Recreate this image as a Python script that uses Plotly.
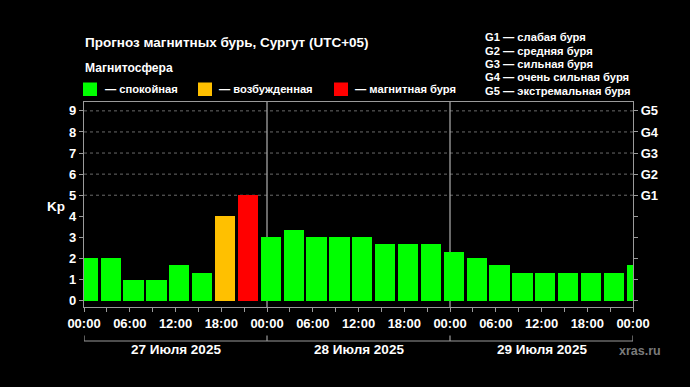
import plotly.graph_objects as go

# ---- data ----
kp_values = [2, 2, 1, 1, 1.67, 1.33, 4, 5,
             3, 3.33, 3, 3, 3, 2.67, 2.67, 2.67,
             2.33, 2, 1.67, 1.33, 1.33, 1.33, 1.33, 1.33,
             1.67]
# 3-hour intervals, local time (UTC+05): first interval starts at -1 h
interval_start_hours = [-1 + 3 * i for i in range(len(kp_values))]
hour_ticks = list(range(0, 73, 3))
hour_tick_labels = ["%02d:00" % (h % 24) if h % 6 == 0 else "" for h in hour_ticks]
day_labels = ["27 Июля 2025", "28 Июля 2025", "29 Июля 2025"]
day_starts = [0, 24, 48]
kp_ticks = list(range(0, 10))
g_levels = ["G1", "G2", "G3", "G4", "G5"]
g_descriptions = ["G1 — слабая буря", "G2 — средняя буря", "G3 — сильная буря",
                  "G4 — очень сильная буря", "G5 — экстремальная буря"]
legend_labels = ["— спокойная", "— возбужденная", "— магнитная буря"]
legend_colors = ["#00FF00", "#FFC000", "#FF0000"]
title_text = "Прогноз магнитных бурь, Сургут (UTC+05)"

# ---- geometry helpers (pixel -> paper) ----
W, H = 690, 387
L, R, T, B = 84, 633, 102, 307


def px(x):
    return (x - L) / (R - L)


def py(y):
    return (B - y) / (B - T)


FONT = "Liberation Sans"
GRID = "#9a9a9a"

colors = [legend_colors[0] if v < 4 else (legend_colors[1] if v < 5 else legend_colors[2])
          for v in kp_values]
centers = [s + 1.5 for s in interval_start_hours]

fig = go.Figure()
fig.add_trace(go.Bar(x=centers, y=kp_values, width=2.65, marker=dict(color=colors, line=dict(width=0)),
                     showlegend=False, hoverinfo="y"))
# invisible trace for the right-hand axis
fig.add_trace(go.Scatter(x=[0], y=[0], yaxis="y2", mode="markers", marker=dict(opacity=0),
                         showlegend=False, hoverinfo="skip"))

yr = [-0.3, 9.42]
shapes = []
# dotted storm-level grid lines
for lv in range(5, 10):
    shapes.append(dict(type="line", xref="paper", yref="y", x0=0, x1=1, y0=lv, y1=lv,
                       line=dict(color="#6a6a6a", width=1, dash="dot"), layer="below"))
# day separators
for d in day_starts[1:]:
    shapes.append(dict(type="line", xref="x", yref="paper", x0=d, x1=d, y0=0, y1=1,
                       line=dict(color="#b0b0b0", width=1.2), layer="below"))
# day bracket under the time labels
shapes.append(dict(type="line", xref="x", yref="paper", x0=0, x1=72, y0=py(341), y1=py(341),
                   line=dict(color=GRID, width=1.2)))
for d in day_starts + [72]:
    shapes.append(dict(type="line", xref="x", yref="paper", x0=d, x1=d, y0=py(341), y1=py(335.5),
                       line=dict(color=GRID, width=1.2)))
# legend swatches
sw_x = [83, 198, 334]
for xs, c in zip(sw_x, legend_colors):
    shapes.append(dict(type="rect", xref="paper", yref="paper", x0=px(xs), x1=px(xs + 14),
                       y0=py(96), y1=py(82.5), fillcolor=c, line=dict(width=0)))

bold = dict(family=FONT, color="white", weight="bold")
annotations = []
annotations.append(dict(text=title_text, xref="paper", yref="paper", x=px(83), y=py(43),
                        xanchor="left", yanchor="middle", showarrow=False, font=dict(size=13.5, **bold)))
annotations.append(dict(text="Магнитосфера", xref="paper", yref="paper", x=px(83), y=py(68),
                        xanchor="left", yanchor="middle", showarrow=False, font=dict(size=12.1, **bold)))
for xt, t in zip([104, 218, 354], legend_labels):
    annotations.append(dict(text=t, xref="paper", yref="paper", x=px(xt - 1), y=py(89.5),
                            xanchor="left", yanchor="middle", showarrow=False, font=dict(size=11.2, **bold)))
for i, t in enumerate(g_descriptions):
    annotations.append(dict(text=t, xref="paper", yref="paper", x=px(483), y=py(37 + 13.5 * i),
                            xanchor="left", yanchor="middle", showarrow=False, font=dict(size=11.2, **bold)))
annotations.append(dict(text="Kp", xref="paper", yref="y", x=px(55.5), y=4.45,
                        xanchor="center", yanchor="middle", showarrow=False, font=dict(size=13.5, **bold)))
for d, t in zip(day_starts, day_labels):
    annotations.append(dict(text=t, xref="x", yref="paper", x=d + 12, y=py(349.5),
                            xanchor="center", yanchor="middle", showarrow=False, font=dict(size=13.5, **bold)))
annotations.append(dict(text="xras.ru", xref="paper", yref="paper", x=px(640), y=py(350.5),
                        xanchor="center", yanchor="middle", showarrow=False,
                        font=dict(size=12.5, family=FONT, color="#7a7a7a", weight="bold")))

fig.update_layout(
    width=W, height=H,
    margin=dict(l=L, r=W - R, t=T, b=H - B, pad=0),
    paper_bgcolor="black", plot_bgcolor="black",
    bargap=0,
    shapes=shapes, annotations=annotations,
    xaxis=dict(range=[0, 72], tickmode="array", tickvals=hour_ticks, ticktext=hour_tick_labels,
               ticks="outside", ticklen=4, tickcolor=GRID, tickwidth=1,
               showline=True, linecolor=GRID, linewidth=1.2, mirror=True,
               showgrid=False, zeroline=False, fixedrange=True,
               tickfont=dict(size=13, **bold)),
    yaxis=dict(range=yr, tickmode="array", tickvals=kp_ticks, ticktext=[str(k) for k in kp_ticks],
               ticks="outside", ticklen=4, tickcolor=GRID, tickwidth=1,
               showline=True, linecolor=GRID, linewidth=1.2,
               showgrid=False, zeroline=False, fixedrange=True,
               tickfont=dict(size=13, **bold)),
    yaxis2=dict(range=yr, overlaying="y", side="right", tickmode="array", tickvals=kp_ticks,
                ticktext=[""] * 5 + g_levels,
                ticks="outside", ticklen=4, tickcolor=GRID, tickwidth=1,
                showline=True, linecolor=GRID, linewidth=1.2,
                showgrid=False, zeroline=False, fixedrange=True,
                tickfont=dict(size=13, **bold)),
)

fig.write_html("out.html", config={"displayModeBar": False},
               post_script="document.body.style.margin='0';document.body.style.background='black';")
